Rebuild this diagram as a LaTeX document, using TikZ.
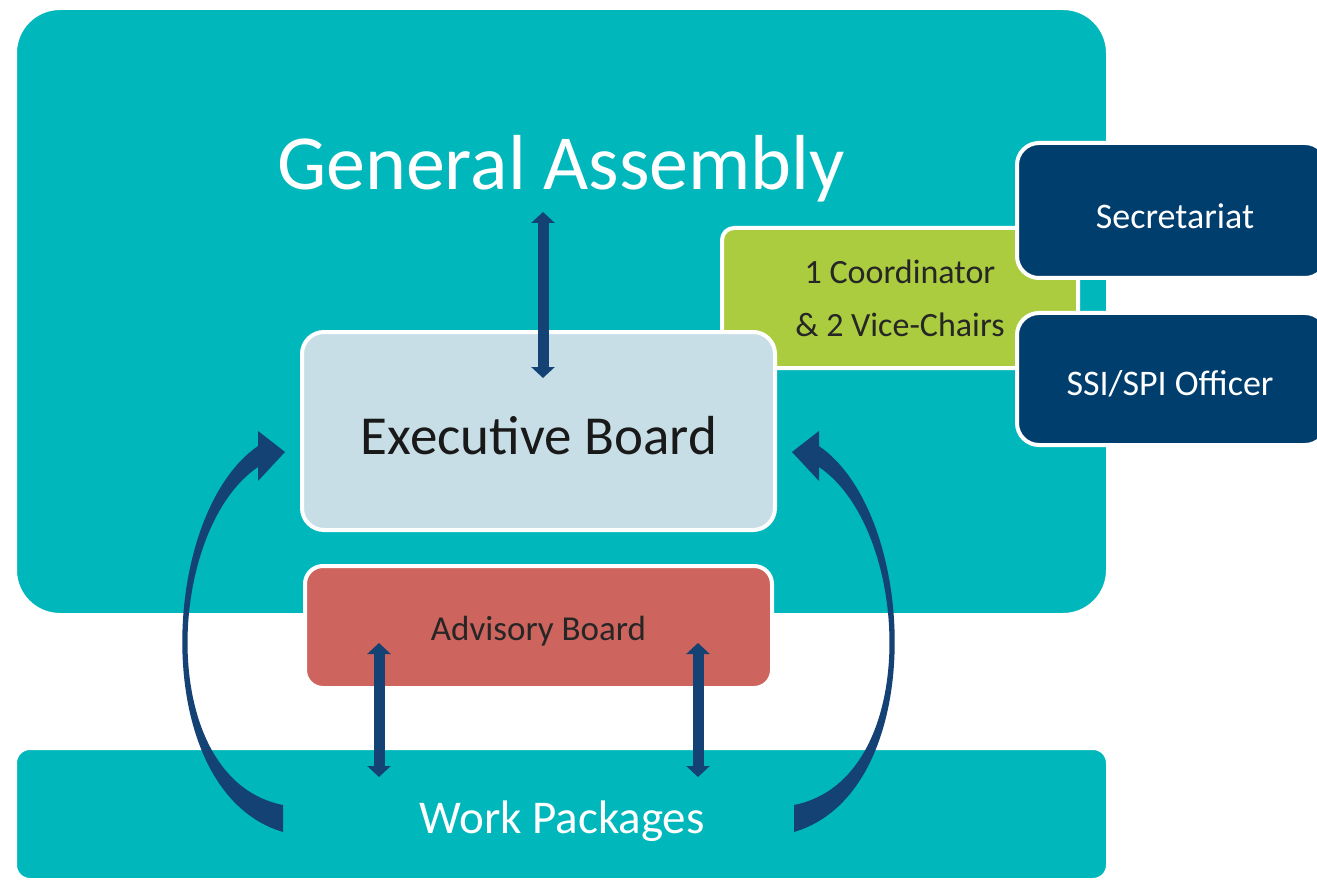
\documentclass[tikz,border=0pt]{standalone}
\usepackage{fontspec}
\setmainfont{Carlito}
\usetikzlibrary{arrows.meta}
\definecolor{teal}{RGB}{0,183,188}
\definecolor{lblue}{RGB}{199,222,230}
\definecolor{redbox}{RGB}{205,100,93}
\definecolor{greenbox}{RGB}{170,204,62}
\definecolor{navybox}{RGB}{0,62,110}
\definecolor{arrowblue}{RGB}{20,66,116}
\tikzset{
  box/.style={draw=white, line width=4pt, inner sep=0pt, align=center},
  dbl/.style={arrowblue, line width=11pt, {Triangle[width=23pt,length=11pt]}-{Triangle[width=23pt,length=11pt]}},
}
\begin{document}
\begin{tikzpicture}[x=1pt,y=-1pt]
\useasboundingbox (0,0) rectangle (1317,885);
\fill[white] (0,0) rectangle (1317,885);
% General Assembly box
\node[box, fill=teal, rounded corners=45pt, minimum width=1093pt, minimum height=607pt] (gabox) at (561.5,311.5) {};
\node[text=white, font=\fontsize{78}{90}\selectfont, inner sep=0pt] (ga) at (561,169) {General Assembly};
% Work packages
\node[box, fill=teal, rounded corners=15pt, minimum width=1093pt, minimum height=132pt] (wp) at (561.5,814) {};
\node[text=white, font=\fontsize{47}{56}\selectfont, inner sep=0pt] (wpt) at (562,821) {Work Packages};
% Coordinator
\node[box, fill=greenbox, rounded corners=12pt, minimum width=356pt, minimum height=140pt,
      text=black!85, font=\fontsize{34}{53}\selectfont] (coord) at (900,298) {1 Coordinator\\\& 2 Vice-Chairs};
% Secretariat, SSI
\node[box, fill=navybox, rounded corners=22pt, minimum width=310pt, minimum height=135pt,
      text=white, font=\fontsize{36}{40}\selectfont] (sec) at (1172,210.5) {};
\node[text=white, font=\fontsize{36}{40}\selectfont, inner sep=0pt] (sect) at (1175,216) {Secretariat};
\node[box, fill=navybox, rounded corners=22pt, minimum width=310pt, minimum height=132pt] (ssi) at (1172,379) {};
\node[text=white, font=\fontsize{36}{40}\selectfont, inner sep=0pt] (ssit) at (1170,384) {SSI/SPI Officer};
% Executive board
\node[box, fill=lblue, rounded corners=22pt, minimum width=473pt, minimum height=198pt] (eb) at (538.5,431) {};
\node[text=black!90, font=\fontsize{55}{60}\selectfont, inner sep=0pt] (ebt) at (539,436) {Executive Board};
% Advisory board
\node[box, fill=redbox, rounded corners=18pt, minimum width=467pt, minimum height=122pt] (ab) at (538.5,627) {};
\node[text=black!85, font=\fontsize{35}{40}\selectfont, inner sep=0pt] (abt) at (538.5,631) {Advisory Board};
% straight arrows
\coordinate (gaarr) at (543,212);
\coordinate (ebarr) at (543,378);
\draw[dbl] (gaarr) -- (ebarr);
\coordinate (ab1) at (379,643);
\coordinate (wp1) at (379,777);
\coordinate (ab2) at (698,643);
\coordinate (wp2) at (698,777);
\draw[dbl] (ab1) -- (wp1);
\draw[dbl] (ab2) -- (wp2);
% curved block arrows
\fill[arrowblue] (283,832) .. controls (148,792) and (158,515) .. (258,446)
  -- (258,431) -- (285,452) -- (258,481) -- (258,467)
  .. controls (165,530) and (155,780) .. (283,805) -- cycle;
\begin{scope}[shift={(1077,0)}, xscale=-1]
\fill[arrowblue] (283,832) .. controls (148,792) and (158,515) .. (258,446)
  -- (258,431) -- (285,452) -- (258,481) -- (258,467)
  .. controls (165,530) and (155,780) .. (283,805) -- cycle;
\end{scope}
\end{tikzpicture}
\end{document}
